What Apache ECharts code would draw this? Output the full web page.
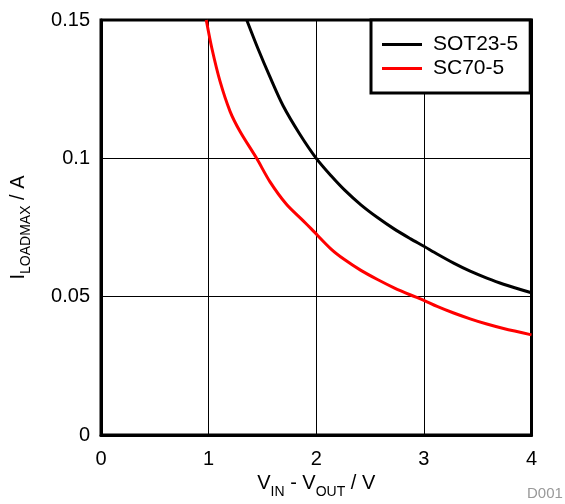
<!DOCTYPE html>
<html>
<head>
<meta charset="utf-8">
<script src="https://cdn.jsdelivr.net/npm/echarts@6/dist/echarts.min.js"></script>
<style>html,body{margin:0;padding:0;background:#fff}#c{width:565px;height:504px}</style>
</head>
<body>
<div id="c"></div>
<script>
var sotX = [1.354, 1.46, 1.569, 1.692, 1.846, 2.0, 2.138, 2.262, 2.415, 2.569, 2.723, 2.877, 3.0, 3.123, 3.277, 3.43, 3.585, 3.74, 4.0];
var sotY = [0.15, 0.1395, 0.1295, 0.119, 0.1088, 0.1, 0.0937, 0.0886, 0.0832, 0.0786, 0.0745, 0.0709, 0.0682, 0.0654, 0.0621, 0.0592, 0.0567, 0.0545, 0.0514];
var scX = [0.978, 1.03, 1.107, 1.2, 1.292, 1.446, 1.569, 1.723, 1.877, 1.954, 2.138, 2.262, 2.415, 2.569, 2.723, 2.877, 3.0, 3.123, 3.277, 3.43, 3.585, 3.74, 4.0];
var scY = [0.15, 0.1398, 0.1277, 0.1169, 0.1097, 0.1, 0.0916, 0.0834, 0.0775, 0.0745, 0.0672, 0.0634, 0.0595, 0.0562, 0.0532, 0.0506, 0.0487, 0.0465, 0.0441, 0.0420, 0.0401, 0.0385, 0.0362];
var seriesNames = ['SOT23-5', 'SC70-5'];
var xTicks = [0, 1, 2, 3, 4];
var yTicks = [0, 0.05, 0.1, 0.15];

function pairs(xs, ys) { return xs.map(function (x, i) { return [x, ys[i]]; }); }
var FONT = 'Liberation Sans, Arial, sans-serif';
var chart = echarts.init(document.getElementById('c'), null, { renderer: 'canvas' });
chart.setOption({
  animation: false,
  backgroundColor: '#fff',
  textStyle: { fontFamily: FONT },
  grid: { left: 98, right: 33.5, top: 20, bottom: 69, show: true, borderColor: '#000', borderWidth: 3, backgroundColor: 'transparent' },
  legend: {
    left: 371, top: 20, orient: 'vertical',
    backgroundColor: '#fff', borderColor: '#000', borderWidth: 3,
    padding: [14, 12, 14, 11], itemGap: 3, itemWidth: 40, itemHeight: 3,
    icon: 'rect', itemStyle: { borderWidth: 0 },
    textStyle: { fontSize: 21, color: '#000', fontFamily: FONT, padding: [0, 0, 0, 6] },
    data: seriesNames
  },
  xAxis: {
    type: 'value', min: 0, max: 4, interval: 1,
    axisLine: { show: true, lineStyle: { color: '#000', width: 3 } },
    axisTick: { show: false },
    splitLine: { show: true, lineStyle: { color: '#000', width: 1 } },
    axisLabel: { fontSize: 20, color: '#000', margin: 14, fontFamily: FONT,
      formatter: function (v) { return xTicks.indexOf(v) >= 0 ? String(v) : ''; } },
    name: '{a|V}{b|IN}{a| - V}{b|OUT}{a| / V}',
    nameLocation: 'middle', nameGap: 38,
    nameTextStyle: {
      rich: {
        a: { fontSize: 20, color: '#000', fontFamily: FONT, padding: [0, 0, 5, 0], verticalAlign: 'bottom' },
        b: { fontSize: 14, color: '#000', fontFamily: FONT, verticalAlign: 'bottom' }
      }
    }
  },
  yAxis: {
    type: 'value', min: 0, max: 0.15, interval: 0.05,
    axisLine: { show: true, lineStyle: { color: '#000', width: 3 } },
    axisTick: { show: false },
    splitLine: { show: true, lineStyle: { color: '#000', width: 1 } },
    axisLabel: { fontSize: 20, color: '#000', margin: 11, fontFamily: FONT,
      formatter: function (v) {
        for (var i = 0; i < yTicks.length; i++) { if (Math.abs(yTicks[i] - v) < 1e-9) return String(yTicks[i]); }
        return '';
      } },
    name: '{a|I}{b|LOADMAX}{a| / A}',
    nameLocation: 'middle', nameGap: 68, nameRotate: 90,
    nameTextStyle: {
      rich: {
        a: { fontSize: 20, color: '#000', fontFamily: FONT, padding: [0, 0, 5, 0], verticalAlign: 'bottom' },
        b: { fontSize: 14, color: '#000', fontFamily: FONT, verticalAlign: 'bottom' }
      }
    }
  },
  series: [
    { name: seriesNames[0], type: 'line', data: pairs(sotX, sotY), smooth: 0.3, showSymbol: false, symbol: 'none',
      lineStyle: { color: '#000', width: 3 }, itemStyle: { color: '#000' } },
    { name: seriesNames[1], type: 'line', data: pairs(scX, scY), smooth: 0.3, showSymbol: false, symbol: 'none',
      lineStyle: { color: '#ff0000', width: 3 }, itemStyle: { color: '#ff0000' } }
  ],
  graphic: [
    { type: 'text', left: 527, top: 486, style: { text: 'D001', fontSize: 15, fill: '#999', fontFamily: FONT } }
  ]
});
</script>
</body>
</html>
